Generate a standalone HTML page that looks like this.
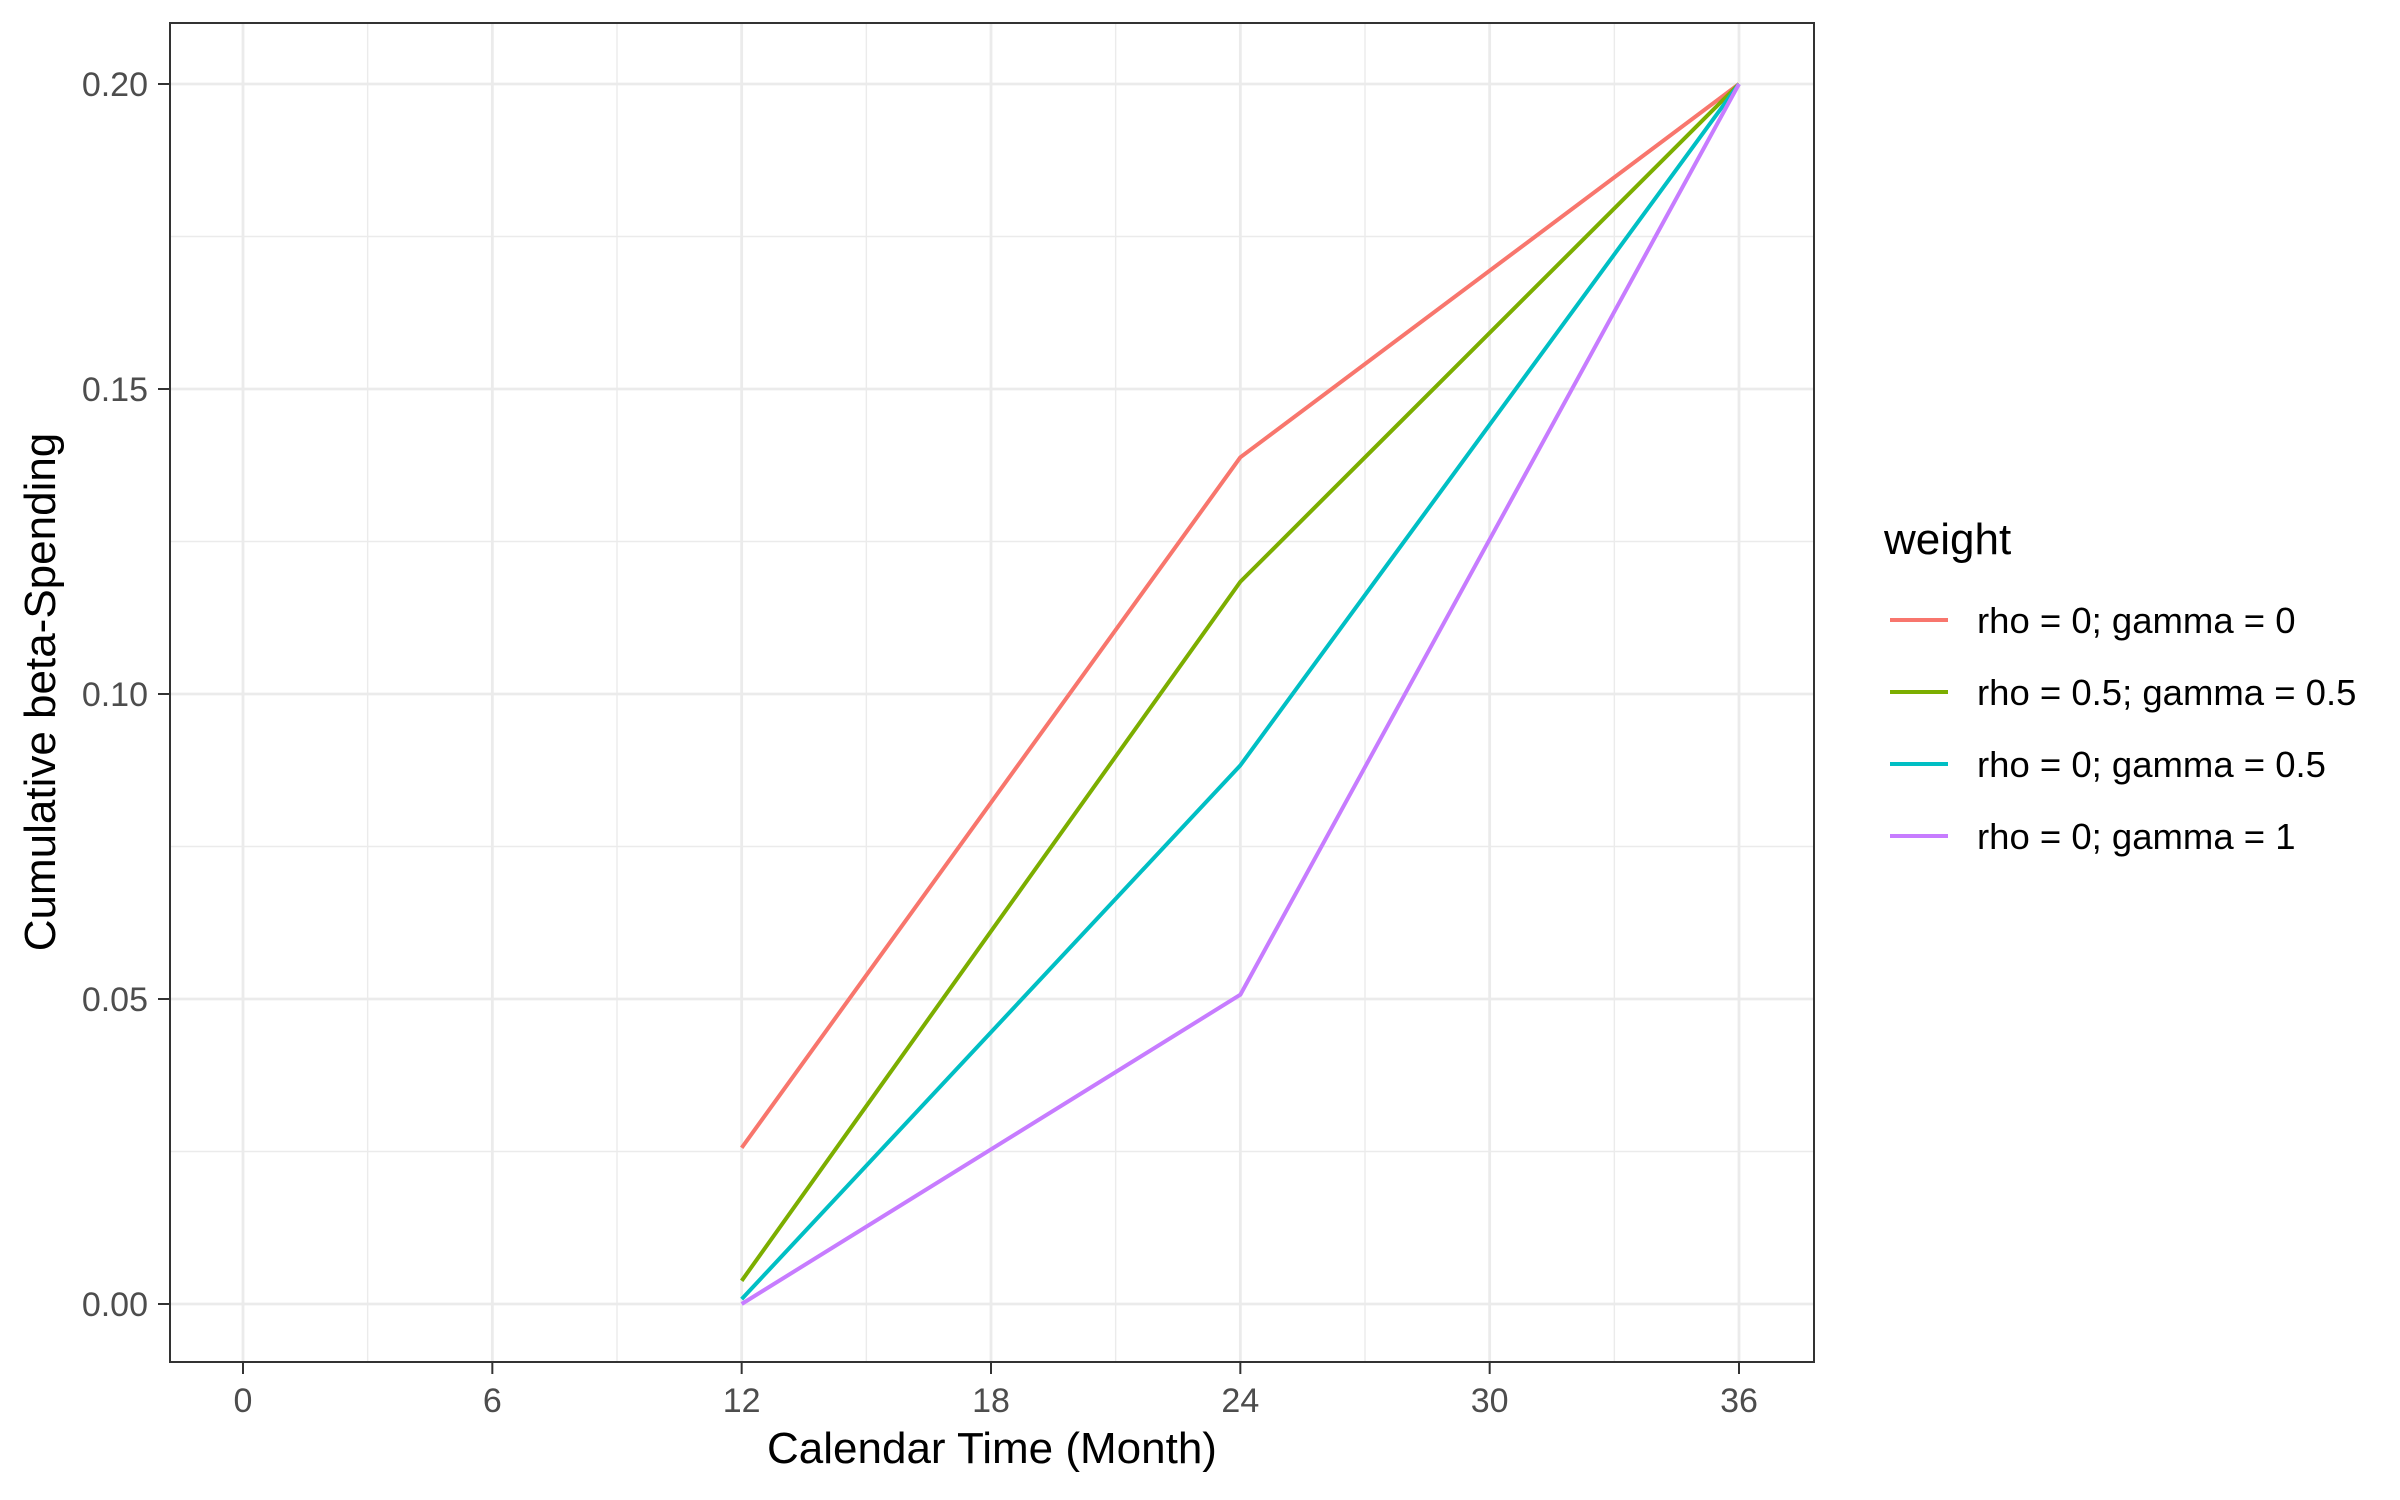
<!DOCTYPE html>
<html><head><meta charset="utf-8"><style>
html,body{margin:0;padding:0;background:#fff;}
svg{display:block;font-family:"Liberation Sans",sans-serif;}
</style></head><body>
<svg id="chart" width="2400" height="1500" viewBox="0 0 2400 1500">
<rect x="0" y="0" width="2400" height="1500" fill="#fff"/>
<g id="grid"></g>
<g id="series"></g>
<rect x="170" y="23" width="1644" height="1339" fill="none" stroke="#333" stroke-width="2"/>
<g id="axes"></g>
<text x="992" y="1463" font-size="44" text-anchor="middle" fill="#000">Calendar Time (Month)</text>
<text transform="translate(55,692) rotate(-90)" font-size="44" text-anchor="middle" fill="#000">Cumulative beta-Spending</text>
<g id="legend"></g>
</svg>
<script>
const xTicks = [0, 6, 12, 18, 24, 30, 36];
const yTicks = [0, 0.05, 0.10, 0.15, 0.20];
const yTickLabels = ["0.00", "0.05", "0.10", "0.15", "0.20"];
const months = [12, 24, 36];
const seriesNames = ["rho = 0; gamma = 0", "rho = 0.5; gamma = 0.5", "rho = 0; gamma = 0.5", "rho = 0; gamma = 1"];
const seriesColors = ["#F8766D", "#7CAE00", "#00BFC4", "#C77CFF"];
const s1 = [0.0256, 0.1388, 0.2];
const s2 = [0.0038, 0.1184, 0.2];
const s3 = [0.0008, 0.0883, 0.2];
const s4 = [0.0, 0.0507, 0.2];
const allSeries = [s1, s2, s3, s4];

const NS = "http://www.w3.org/2000/svg";
function X(v){ return 243 + (v - 0) / 36 * (1739 - 243); }
function Y(v){ return 1304 - v / 0.2 * (1304 - 84); }
function mk(tag, attrs, parent){ const e = document.createElementNS(NS, tag); for (const k in attrs) e.setAttribute(k, attrs[k]); parent.appendChild(e); return e; }

const grid = document.getElementById('grid');
const axes = document.getElementById('axes');
for (let i = 0; i < xTicks.length - 1; i++) {
  const m = (xTicks[i] + xTicks[i+1]) / 2;
  const l = mk('line', {x1: X(m), x2: X(m), y1: 23, y2: 1362, stroke: '#EBEBEB', 'stroke-width': 1.4}, grid);
  
  
}
for (let i = 0; i < yTicks.length - 1; i++) {
  const m = (yTicks[i] + yTicks[i+1]) / 2;
  const l = mk('line', {x1: 170, x2: 1814, y1: Y(m), y2: Y(m), stroke: '#EBEBEB', 'stroke-width': 1.4}, grid);
  
  
}
xTicks.forEach(t => {
  const l = mk('line', {x1: X(t), x2: X(t), y1: 23, y2: 1362, stroke: '#EBEBEB', 'stroke-width': 2.8}, grid);
  
  
  const tk = mk('line', {x1: X(t), x2: X(t), y1: 1362, y2: 1374, stroke: '#333', 'stroke-width': 2}, axes);
  
  
  const tx = mk('text', {x: X(t), y: 1412, 'font-size': 34, 'text-anchor': 'middle', fill: '#4D4D4D'}, axes);
  tx.textContent = String(t);
  
  
});
yTicks.forEach((t, i) => {
  const l = mk('line', {x1: 170, x2: 1814, y1: Y(t), y2: Y(t), stroke: '#EBEBEB', 'stroke-width': 2.8}, grid);
  
  
  const tk = mk('line', {x1: 158, x2: 170, y1: Y(t), y2: Y(t), stroke: '#333', 'stroke-width': 2}, axes);
  
  
  const tx = mk('text', {x: 148, y: Y(t) + 12, 'font-size': 34, 'text-anchor': 'end', fill: '#4D4D4D'}, axes);
  tx.textContent = yTickLabels[i];
  
  
});

const sg = document.getElementById('series');
allSeries.forEach((s, i) => {
  const pts = s.map((v, j) => X(months[j]) + ',' + Y(v)).join(' ');
  const p = mk('polyline', {points: pts, fill: 'none', stroke: seriesColors[i], 'stroke-width': 4, 'stroke-linejoin': 'round'}, sg);
  
  
});

const lg = document.getElementById('legend');
const lt = mk('text', {x: 1884, y: 554, 'font-size': 44, fill: '#000'}, lg);
lt.textContent = 'weight';


seriesNames.forEach((n, i) => {
  const y = 620 + i * 72;
  const l = mk('line', {x1: 1890, x2: 1948, y1: y, y2: y, stroke: seriesColors[i], 'stroke-width': 4}, lg);
  
  
  const t = mk('text', {x: 1977, y: y + 13, 'font-size': 36.5, fill: '#000'}, lg);
  t.textContent = n;
  
  
});
</script>
</body></html>
